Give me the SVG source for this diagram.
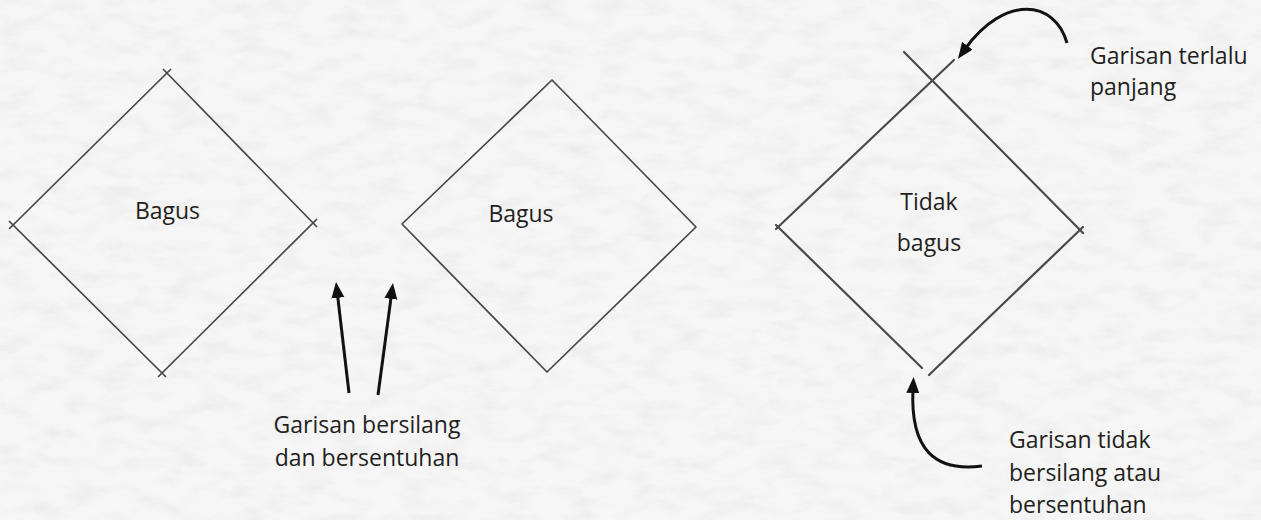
<svg xmlns="http://www.w3.org/2000/svg" width="1261" height="520" viewBox="0 0 1261 520">
  <style>
    .lbl { font-family: "Open Sans", "Noto Sans", "Liberation Sans", sans-serif; font-size: 23px; fill: #231f20; }
    .edge { stroke: #474747; stroke-width: 1.7; stroke-linecap: round; fill: none; }
    .edge3 { stroke: #4a4a4a; stroke-width: 2.2; stroke-linecap: round; fill: none; }
    .arrow { stroke: #111; stroke-width: 3; fill: none; }
  </style>
  <defs>
    <marker id="ah" markerUnits="userSpaceOnUse" markerWidth="18" markerHeight="14" refX="4" refY="6.5" orient="auto">
      <path d="M0,0 L16,6.5 L0,13 Z" fill="#111"/>
    </marker>
    <filter id="paper" x="0" y="0" width="100%" height="100%">
      <feTurbulence type="fractalNoise" baseFrequency="0.03 0.07" numOctaves="4" seed="7"/>
      <feColorMatrix type="matrix" values="0 0 0 0 0.78  0 0 0 0 0.78  0 0 0 0 0.78  1.8 0 0 0 -0.8"/>
    </filter>
  </defs>

  <rect width="1261" height="520" fill="#f6f6f6"/>
  <rect width="1261" height="520" filter="url(#paper)" opacity="0.7"/>

  <g id="diamond-good-1">
    <line class="edge" x1="9.5" y1="228.5" x2="170.5" y2="69.5"/>
    <line class="edge" x1="163.5" y1="69.5" x2="316.5" y2="226.5"/>
    <line class="edge" x1="316.5" y1="219.5" x2="158.5" y2="376.5"/>
    <line class="edge" x1="9.5" y1="221.5" x2="165.5" y2="376.5"/>
    <text class="lbl" x="167.5" y="219" text-anchor="middle">Bagus</text>
  </g>

  <g id="diamond-good-2">
    <path class="edge" d="M402,224 L552,80 L696,227 L547,372 Z" stroke-linejoin="round"/>
    <text class="lbl" x="521" y="222" text-anchor="middle">Bagus</text>
  </g>

  <g id="diamond-bad">
    <line class="edge3" x1="776" y1="229" x2="954" y2="60"/>
    <line class="edge3" x1="904" y1="52" x2="1083" y2="233"/>
    <line class="edge3" x1="776" y1="225" x2="922" y2="368"/>
    <line class="edge3" x1="1083" y1="227" x2="929" y2="375"/>
    <text class="lbl" x="929" y="210" text-anchor="middle">Tidak</text>
    <text class="lbl" x="929" y="251" text-anchor="middle">bagus</text>
  </g>

  <g id="note-crossing">
    <text class="lbl" x="367" y="433" text-anchor="middle">Garisan bersilang</text>
    <text class="lbl" x="367" y="466" text-anchor="middle">dan bersentuhan</text>
  </g>

  <g id="note-too-long">
    <text class="lbl" x="1090" y="64">Garisan terlalu</text>
    <text class="lbl" x="1090" y="95">panjang</text>
  </g>

  <g id="note-not-touching">
    <text class="lbl" x="1009" y="448">Garisan tidak</text>
    <text class="lbl" x="1009" y="481">bersilang atau</text>
    <text class="lbl" x="1009" y="513">bersentuhan</text>
  </g>

  <g id="connectors">
    <line class="arrow" x1="349" y1="393" x2="337.4" y2="293.9" marker-end="url(#ah)"/>
    <line class="arrow" x1="378" y1="395" x2="391.4" y2="294.9" marker-end="url(#ah)"/>
    <path class="arrow" d="M1067,43 C1055,0 1005,-6 965,49" marker-end="url(#ah)"/>
    <path class="arrow" d="M982,466 C935,472 910,450 913,389" marker-end="url(#ah)"/>
  </g>
</svg>
